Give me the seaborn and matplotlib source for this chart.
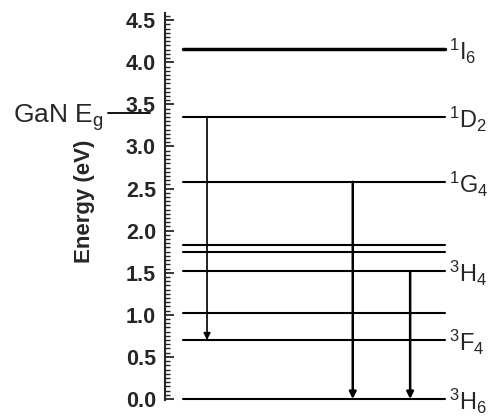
import matplotlib
matplotlib.use("Agg")
import matplotlib.pyplot as plt
from matplotlib import font_manager
from matplotlib.ticker import MultipleLocator
import pandas as pd
import seaborn as sns

# Energieniveaus (eV)
level_energy = [4.16, 3.35, 2.58, 1.83, 1.75, 1.52, 1.02, 0.70, 0.0]
level_label = ["1I6", "1D2", "1G4", "", "", "3H4", "", "3F4", "3H6"]

# Uebergaenge (Pfeile): von -> nach
trans_from = [3.35, 2.58, 1.52]
trans_to = [0.70, 0.0, 0.0]

gan_eg = 3.40

sns.set_style("ticks")
installed = {f.name for f in font_manager.fontManager.ttflist}
label_font = "Liberation Sans Narrow" if "Liberation Sans Narrow" in installed else "Liberation Sans"
plt.rcParams["font.family"] = ["Liberation Sans", "DejaVu Sans"]
plt.rcParams["mathtext.default"] = "regular"

fig = plt.figure(figsize=(4.91, 4.19), dpi=100)
ax = fig.add_axes([0.336, 0.0458, 0.664, 0.922])

# Niveaus als Linien (seaborn)
rows = []
for i, e in enumerate(level_energy):
    grp = "thick" if i == 0 else "thin"
    rows.append({"level": i, "x": 0.055, "energy": e, "w": grp})
    rows.append({"level": i, "x": 0.859, "energy": e, "w": grp})
df = pd.DataFrame(rows)
sns.lineplot(data=df, x="x", y="energy", units="level", estimator=None,
             size="w", sizes={"thick": 2.5, "thin": 1.5}, color="black",
             legend=False, ax=ax, clip_on=False)

# Beschriftungen rechts
for e, lab in zip(level_energy, level_label):
    if not lab:
        continue
    txt = r"$\mathregular{^{%s}%s_{%s}}$" % (lab[0], lab[1], lab[2])
    ax.annotate(txt, xy=(0.872, e), xytext=(0, -8), textcoords="offset points",
                ha="left", va="baseline", fontsize=17, family=label_font,
                annotation_clip=False)

# Pfeile
arrow_x = [0.129, 0.576, 0.752]
arrow_lw = [1.2, 1.8, 1.8]
for x, e0, e1, lw in zip(arrow_x, trans_from, trans_to, arrow_lw):
    ax.annotate("", xy=(x, e1), xytext=(x, e0),
                arrowprops=dict(arrowstyle="-|>", color="black", lw=lw,
                                mutation_scale=10, shrinkA=0, shrinkB=0),
                annotation_clip=False)

# GaN Bandluecke
ax.plot([-0.175, -0.046], [gan_eg, gan_eg], color="black", lw=1.3, clip_on=False)
ax.annotate(r"GaN $\mathregular{E_g}$", xy=(-0.19, gan_eg), xytext=(0, -7),
            textcoords="offset points", ha="right", va="baseline",
            fontsize=19, family=label_font, annotation_clip=False)

ax.set_xlim(0, 1)
ax.set_ylim(-0.01, 4.58)
ax.set_xticks([])
ax.set_xlabel("")
ax.yaxis.set_major_locator(MultipleLocator(0.5))
ax.yaxis.set_minor_locator(MultipleLocator(0.05))
ax.yaxis.set_major_formatter(matplotlib.ticker.FormatStrFormatter("%.1f"))
ax.tick_params(axis="y", which="major", direction="in", length=6.5, width=1.3,
               pad=6.5, labelsize=15.5)
ax.tick_params(axis="y", which="minor", direction="in", length=3.5, width=1.0)
for t in ax.get_yticklabels():
    t.set_fontweight("bold")
ax.spines["left"].set_linewidth(1.5)
sns.despine(ax=ax, bottom=True)

ax.set_ylabel("Energy (eV)", fontsize=16, fontweight="bold")
ax.yaxis.set_label_coords(-0.215, 0.515)

fig.savefig("out.png", dpi=100)
